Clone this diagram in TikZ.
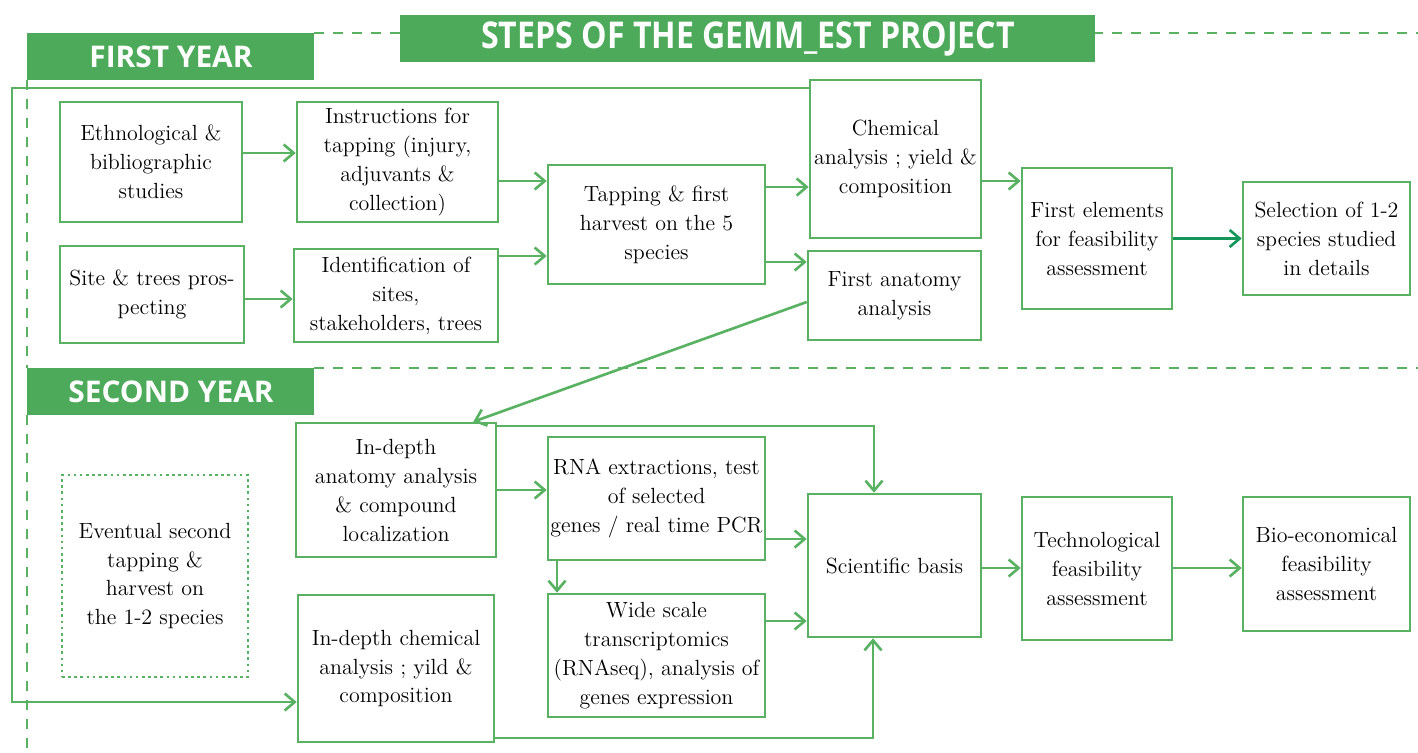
\documentclass[tikz,border=0pt]{standalone}
\usepackage{fontspec}
\newfontfamily\headfont{Open Sans}
\usetikzlibrary{arrows.meta}
\definecolor{gemmgreen}{RGB}{76,170,90}
\definecolor{gemmline}{RGB}{88,178,98}
\definecolor{gemmteal}{RGB}{20,150,90}

\begin{document}
\begin{tikzpicture}[x=0.02cm, y=-0.02cm,
    every node/.style={font=\fontsize{12.5}{16.5}\selectfont},
    box/.style={draw=gemmline, line width=1.5pt, align=center, inner sep=1pt},
    arr/.style={gemmline, line width=1.5pt, -{Straight Barb[length=2mm,width=3.4mm]}},
    sep/.style={gemmline, line width=1.3pt, dash pattern=on 0.2cm off 0.18cm},
    year/.style={text=white, font=\headfont\bfseries\fontsize{17}{20}\selectfont}]
  \useasboundingbox (0,0) rectangle (1418,752);

  % separations des annees
  \draw[sep] (314,33) -- (1418,33);
  \draw[sep] (314,368) -- (1418,368);
  \draw[sep] (27,80) -- (27,368);
  \draw[sep] (27,415) -- (27,752);

  % bandeaux
  \fill[gemmgreen] (400,15) rectangle (1095,62);
  \node[year, font=\headfont\bfseries\fontsize{21}{24}\selectfont] (titre) at (748,39)
    {\scalebox{0.87}[1]{STEPS OF THE GEMM\_EST PROJECT}};
  \fill[gemmgreen] (27,33) rectangle (314,80);
  \node[year] (an1) at (171,57) {FIRST YEAR};
  \fill[gemmgreen] (27,368) rectangle (314,415);
  \node[year] (an2) at (171,392) {SECOND YEAR};

  % premiere annee
  \node[box, minimum width=3.64cm, minimum height=2.4cm] (ethno) at (151,162)
    {Ethnological \&\\bibliographic\\studies};
  \node[box, minimum width=4.02cm, minimum height=2.4cm] (instr) at (397.5,162)
    {Instructions for\\tapping (injury,\\adjuvants \&\\collection)};
  \node[box, minimum width=3.68cm, minimum height=1.94cm] (site) at (152,294.5)
    {Site \& trees pros-\\pecting};
  \node[box, minimum width=4.08cm, minimum height=1.86cm] (ident) at (396,295.5)
    {Identification of\\sites,\\stakeholders, trees};
  \node[box, minimum width=4.34cm, minimum height=2.38cm] (saignee) at (656.5,224.5)
    {Tapping \& first\\harvest on the 5\\species};
  \node[box, minimum width=3.42cm, minimum height=3.16cm] (chem) at (895.5,159)
    {Chemical\\analysis ; yield \&\\composition};
  \node[box, minimum width=3.46cm, minimum height=1.78cm] (anat) at (894.5,295.5)
    {First anatomy\\analysis};
  \node[box, minimum width=3.0cm, minimum height=2.82cm] (elem) at (1097,238.5)
    {First elements\\for feasibility\\assessment};
  \node[box, minimum width=3.34cm, minimum height=2.26cm] (select) at (1326.5,238.5)
    {Selection of 1-2\\species studied\\in details};

  % deuxieme annee
  \node[box, dotted, minimum width=3.72cm, minimum height=4.04cm] (second) at (155,576)
    {Eventual second\\tapping \&\\harvest on\\the 1-2 species};
  \node[box, minimum width=4.0cm, minimum height=2.68cm] (danat) at (396,490)
    {In-depth\\anatomy analysis\\\& compound\\localization};
  \node[box, minimum width=4.34cm, minimum height=2.46cm] (rna) at (656.5,498.5)
    {RNA extractions, test\\of selected\\genes / real time PCR};
  \node[box, minimum width=3.92cm, minimum height=2.94cm] (dchem) at (396,668.5)
    {In-depth chemical\\analysis ; yild \&\\composition};
  \node[box, minimum width=4.34cm, minimum height=2.46cm] (wide) at (656.5,655.5)
    {Wide scale\\transcriptomics\\(RNAseq), analysis of\\genes expression};
  \node[box, minimum width=3.46cm, minimum height=2.86cm] (sci) at (894.5,565.5)
    {Scientific basis};
  \node[box, minimum width=3.0cm, minimum height=2.86cm] (techno) at (1097,568.5)
    {Technological\\feasibility\\assessment};
  \node[box, minimum width=3.34cm, minimum height=2.68cm] (bio) at (1326.5,564)
    {Bio-economical\\feasibility\\assessment};

  % fleches
  \draw[arr] (ethno.east |- 0,153) -- (instr.west |- 0,153);
  \draw[arr] (site.east |- 0,299) -- (ident.west |- 0,299);
  \draw[arr] (instr.east |- 0,181) -- (saignee.west |- 0,181);
  \draw[arr] (ident.east |- 0,256) -- (saignee.west |- 0,256);
  \draw[arr] (saignee.east |- 0,187) -- (chem.west |- 0,187);
  \draw[arr] (saignee.east |- 0,262) -- (anat.west |- 0,262);
  \draw[arr] (chem.east |- 0,181) -- (elem.west |- 0,181);
  \draw[arr, gemmteal] (elem.east) -- (select.west);
  \draw[arr] (anat.west |- 0,302) -- ([xshift=-0.48cm]danat.north east);
  \coordinate (retour) at (12,702);
  \draw[arr] (chem.west |- 0,88) -| (retour) -- (dchem.west |- retour);
  \draw[arr] (danat.east |- 0,490) -- (rna.west |- 0,490);
  \draw[arr] (danat.east |- 0,426) -| (sci.north -| 874,0);
  \draw[arr] (rna.east |- 0,539) -- (sci.west |- 0,539);
  \draw[arr] (rna.south -| 557,0) -- (wide.north -| 557,0);
  \draw[arr] (wide.east |- 0,621) -- (sci.west |- 0,621);
  \draw[arr] (dchem.east |- 0,738) -| (sci.south -| 873,0);
  \draw[arr] (sci.east |- 0,568) -- (techno.west |- 0,568);
  \draw[arr] (techno.east |- 0,568) -- (bio.west |- 0,568);
\end{tikzpicture}
\end{document}
